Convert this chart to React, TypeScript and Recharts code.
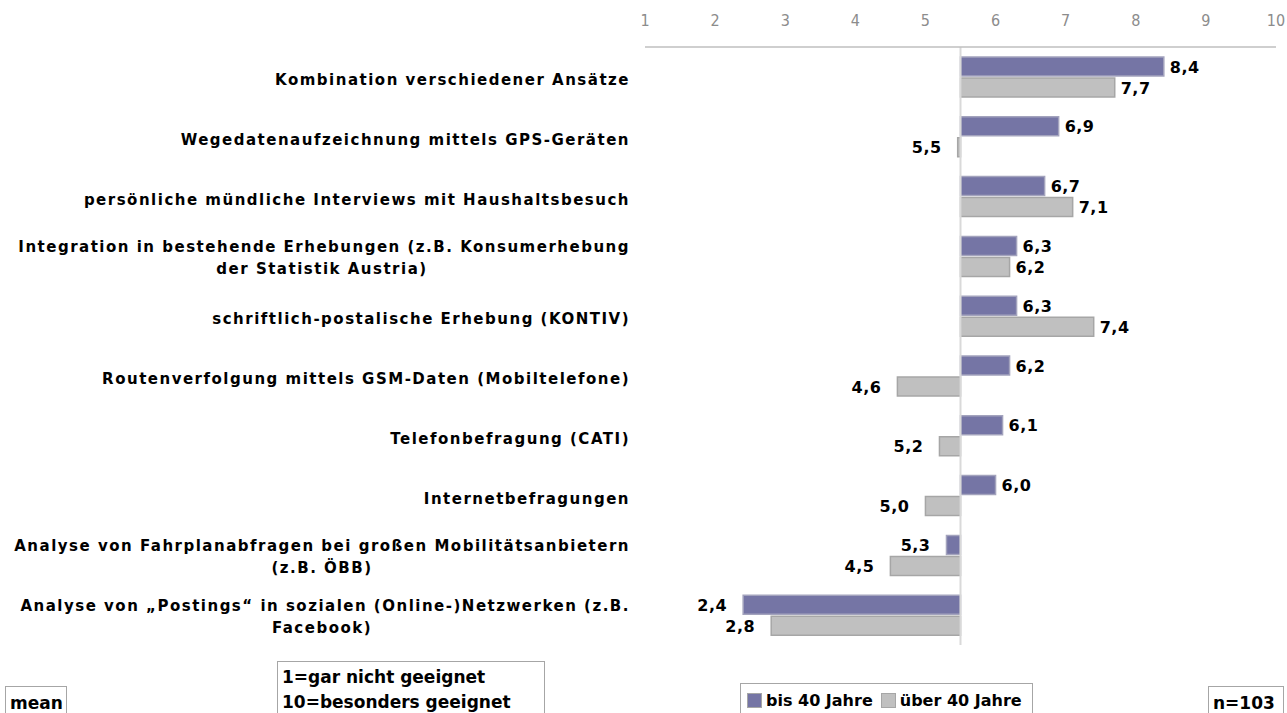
import React from "react";
import { BarChart, Bar, XAxis, YAxis, ReferenceLine, LabelList, Legend } from "recharts";

const categories = [
  "Kombination verschiedener Ansätze",
  "Wegedatenaufzeichnung mittels GPS-Geräten",
  "persönliche mündliche Interviews mit Haushaltsbesuch",
  "Integration in bestehende Erhebungen (z.B. Konsumerhebung\nder Statistik Austria)",
  "schriftlich-postalische Erhebung (KONTIV)",
  "Routenverfolgung mittels GSM-Daten (Mobiltelefone)",
  "Telefonbefragung (CATI)",
  "Internetbefragungen",
  "Analyse von Fahrplanabfragen bei großen Mobilitätsanbietern\n(z.B. ÖBB)",
  "Analyse von „Postings“ in sozialen (Online-)Netzwerken (z.B.\nFacebook)",
];
const under40 = [8.4, 6.9, 6.7, 6.3, 6.3, 6.2, 6.1, 6.0, 5.3, 2.4];
const over40 = [7.7, 5.46, 7.1, 6.2, 7.4, 4.6, 5.2, 5.0, 4.5, 2.8];
const xTicks = [1, 2, 3, 4, 5, 6, 7, 8, 9, 10];
const seriesNames = ["bis 40 Jahre", "über 40 Jahre"];
const BASE = 5.5;

const data = categories.map((name, i) => ({ name, u40: under40[i], o40: over40[i] }));

const PURPLE = "#7575A5";
const GRAY = "#C0C0C0";
const BOLD_FONT = "DejaVu Sans";

const CatTick = (props: any) => {
  const { x, y, payload } = props;
  const lines: string[] = String(payload.value).split("\n");
  const style = { fontFamily: BOLD_FONT, fontWeight: 700, fontSize: 15, letterSpacing: 1.5, fill: "#000" };
  if (lines.length === 1) {
    return (
      <text x={x} y={y} dy={8} textAnchor="end" style={style}>
        {lines[0]}
      </text>
    );
  }
  return (
    <g>
      <text x={x} y={y} dy={-4} textAnchor="end" style={style}>
        {lines[0]}
      </text>
      <text x={x - 308} y={y} dy={18} textAnchor="middle" style={style}>
        {lines[1]}
      </text>
    </g>
  );
};

const ValueLabel = (props: any) => {
  const { x, y, width, height, value } = props;
  const v = Number(value);
  const left = Math.min(x, x + width);
  const right = Math.max(x, x + width);
  const pos = v >= BASE;
  const tx = pos ? right + 6 : left - 16;
  return (
    <text
      x={tx}
      y={y + height / 2}
      dy={6}
      textAnchor={pos ? "start" : "end"}
      style={{ fontFamily: BOLD_FONT, fontWeight: 700, fontSize: 16, letterSpacing: 0.5, fill: "#000" }}
    >
      {v.toFixed(1).replace(".", ",")}
    </text>
  );
};

const LegendBox = () => (
  <div
    style={{
      border: "1px solid #A6A6A6",
      boxSizing: "border-box",
      width: 293,
      height: 32,
      display: "flex",
      alignItems: "center",
      paddingLeft: 6,
      paddingTop: 2,
      fontFamily: BOLD_FONT,
      fontWeight: 700,
      fontSize: 16,
      color: "#000",
      background: "#fff",
    }}
  >
    {[PURPLE, GRAY].map((c, i) => (
      <span key={i} style={{ display: "inline-flex", alignItems: "center", marginRight: 8 }}>
        <span
          style={{
            display: "inline-block",
            width: 13,
            height: 13,
            background: c,
            border: "1px solid #A6A6A6",
            marginRight: 4,
          }}
        />
        {seriesNames[i]}
      </span>
    ))}
  </div>
);

const boxText: React.CSSProperties = {
  position: "absolute",
  border: "1px solid #A6A6A6",
  boxSizing: "border-box",
  fontFamily: BOLD_FONT,
  fontWeight: 700,
  fontSize: 17,
  color: "#000",
  background: "#fff",
  paddingLeft: 4,
  lineHeight: "25px",
  whiteSpace: "nowrap",
};

export default function App() {
  return (
    <div style={{ position: "absolute", left: 0, top: 0, width: 1287, height: 713, overflow: "hidden", background: "#fff" }}>
      <BarChart
        layout="vertical"
        width={1287}
        height={713}
        data={data}
        margin={{ top: 1, right: 11, bottom: 68, left: 0 }}
        barSize={19}
        barGap={2}
      >
        <XAxis
          type="number"
          orientation="top"
          domain={[1, 10]}
          ticks={xTicks}
          allowDataOverflow
          height={46}
          tickSize={0}
          tickMargin={21}
          axisLine={{ stroke: "#BFBFBF", strokeWidth: 1.5 }}
          tickLine={false}
          tick={{ fill: "#8C8C8C", fontSize: 16, fontFamily: "Liberation Sans Narrow, DejaVu Sans Condensed" }}
        />
        <YAxis
          type="category"
          dataKey="name"
          width={645}
          interval={0}
          axisLine={false}
          tickLine={false}
          tickSize={0}
          tickMargin={15}
          tick={<CatTick />}
        />
        <ReferenceLine x={BASE} stroke="#D9D9D9" strokeWidth={2} />
        <Bar
          dataKey={(d: any) => [Math.min(BASE, d.u40), Math.max(BASE, d.u40)]}
          name={seriesNames[0]}
          fill={PURPLE}
          stroke="#A3A3BD"
          strokeWidth={1.5}
          isAnimationActive={false}
        >
          <LabelList dataKey="u40" content={<ValueLabel />} />
        </Bar>
        <Bar
          dataKey={(d: any) => [Math.min(BASE, d.o40), Math.max(BASE, d.o40)]}
          name={seriesNames[1]}
          fill={GRAY}
          stroke="#A6A6A6"
          strokeWidth={1.5}
          isAnimationActive={false}
        >
          <LabelList dataKey="o40" content={<ValueLabel />} />
        </Bar>
        <Legend
          layout="horizontal"
          verticalAlign="middle"
          align="center"
          content={<LegendBox />}
          wrapperStyle={{ position: "absolute", left: 740, top: 683, width: 293, height: 32 }}
        />
      </BarChart>
      <div style={{ ...boxText, left: 5, top: 686, width: 62, height: 34, paddingTop: 4 }}>mean</div>
      <div style={{ ...boxText, left: 277, top: 661, width: 268, height: 60, paddingTop: 3 }}>
        1=gar nicht geeignet
        <br />
        10=besonders geeignet
      </div>
      <div style={{ ...boxText, left: 1208, top: 686, width: 76, height: 34, paddingTop: 4 }}>n=103</div>
    </div>
  );
}
